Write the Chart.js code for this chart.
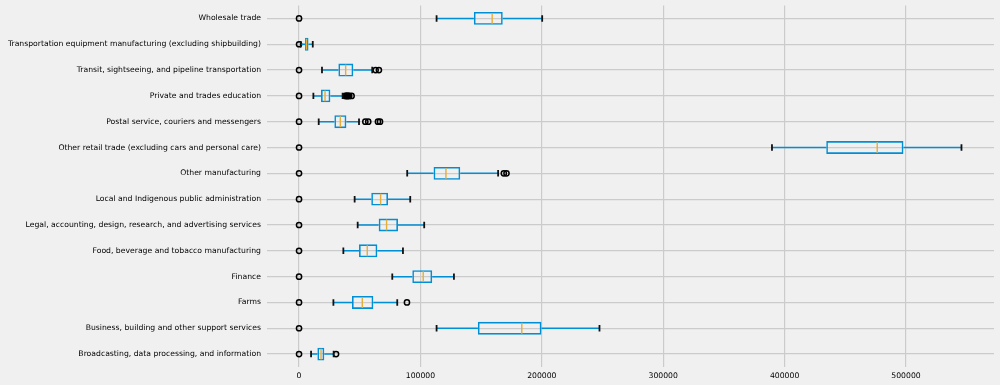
<!DOCTYPE html>
<html>
<head>
<meta charset="utf-8">
<script src="https://cdn.jsdelivr.net/npm/chart.js@4"></script>
<style>
  body { margin: 0; background: #f0f0f0; }
  #wrap { width: 1000px; height: 385px; }
</style>
</head>
<body>
<div id="wrap"><canvas id="boxChart"></canvas></div>
<script>
// categories top -> bottom
const categories = [
  'Wholesale trade',
  'Transportation equipment manufacturing (excluding shipbuilding)',
  'Transit, sightseeing, and pipeline transportation',
  'Private and trades education',
  'Postal service, couriers and messengers',
  'Other retail trade (excluding cars and personal care)',
  'Other manufacturing',
  'Local and Indigenous public administration',
  'Legal, accounting, design, research, and advertising services',
  'Food, beverage and tobacco manufacturing',
  'Finance',
  'Farms',
  'Business, building and other support services',
  'Broadcasting, data processing, and information'
];
const whiskerLow  = [113300,  1400, 18900, 11800, 16200, 389600,  89100, 45800, 48300, 36500,  76800, 28300, 113300,  9900];
const q1          = [144000,  4900, 32400, 18100, 29100, 434300, 110800, 59500, 65600, 49400,  93300, 43600, 147300, 15100];
const medians     = [159100,  6100, 38400, 21400, 34000, 476300, 121000, 67200, 72100, 56200, 102300, 52100, 183500, 18100];
const q3          = [167800,  7800, 44700, 25800, 39000, 497900, 132800, 73300, 81500, 64500, 109700, 61200, 199700, 20800];
const whiskerHigh = [200300, 11300, 60300, 35900, 49400, 545700, 164000, 91600, 103100, 85600, 127600, 80900, 247500, 28500];
const outliers = [
  [0],
  [0],
  [0, 63100, 65800],
  [0, 38100, 38900, 39700, 40500, 41300, 43300],
  [0, 54600, 57000, 65000, 66700],
  [0],
  [0, 168700, 170900],
  [0],
  [0],
  [0],
  [0],
  [0, 88900],
  [0],
  [0, 30500]
];
const xTicks = [0, 100000, 200000, 300000, 400000, 500000];

const boxData = categories.map((c, i) => [q1[i], q3[i]]);
const flierData = [];
outliers.forEach((list, i) => list.forEach(v => flierData.push({ x: v, y: categories[i] })));

const bgPlugin = {
  id: 'bg',
  beforeDraw(chart) {
    const c = chart.ctx;
    c.save();
    c.fillStyle = '#f0f0f0';
    c.fillRect(0, 0, chart.width, chart.height);
    c.restore();
  }
};

// whiskers, caps and medians
const whiskerPlugin = {
  id: 'whiskers',
  afterDatasetsDraw(chart) {
    const c = chart.ctx;
    const xs = chart.scales.x, ys = chart.scales.y;
    const band = Math.abs(ys.getPixelForValue(1) - ys.getPixelForValue(0));
    c.save();
    categories.forEach((cat, i) => {
      const cy = ys.getPixelForValue(i);
      const lo = xs.getPixelForValue(whiskerLow[i]);
      const hi = xs.getPixelForValue(whiskerHigh[i]);
      const b1 = xs.getPixelForValue(q1[i]);
      const b3 = xs.getPixelForValue(q3[i]);
      const md = xs.getPixelForValue(medians[i]);

      c.strokeStyle = '#008fd5';
      c.lineWidth = 1.5;
      c.beginPath();
      c.moveTo(lo, cy); c.lineTo(b1, cy);
      c.moveTo(b3, cy); c.lineTo(hi, cy);
      c.stroke();

      const capH = band * 0.125;
      c.strokeStyle = '#111';
      c.lineWidth = 1.8;
      c.beginPath();
      c.moveTo(lo, cy - capH); c.lineTo(lo, cy + capH);
      c.moveTo(hi, cy - capH); c.lineTo(hi, cy + capH);
      c.stroke();

      const boxH = band * 0.25 - 1;
      c.strokeStyle = '#e5ae38';
      c.lineWidth = 1.4;
      c.beginPath();
      c.moveTo(md, cy - boxH); c.lineTo(md, cy + boxH);
      c.stroke();
    });
    c.restore();
  }
};

const ctx = document.getElementById('boxChart').getContext('2d');

const boxChart = new Chart(ctx, {
  type: 'bar',
  data: {
    labels: categories,
    datasets: [{
      label: 'box',
      data: boxData,
      backgroundColor: 'rgba(0,0,0,0)',
      borderColor: '#008fd5',
      borderWidth: 1.6,
      borderSkipped: false,
      categoryPercentage: 1,
      barPercentage: 0.5
    }, {
      type: 'scatter',
      label: 'fliers',
      data: flierData,
      pointStyle: 'circle',
      pointRadius: 2.6,
      pointBorderWidth: 1.5,
      pointBorderColor: '#000',
      pointBackgroundColor: 'rgba(0,0,0,0)'
    }]
  },
  options: {
    indexAxis: 'y',
    responsive: true,
    maintainAspectRatio: false,
    animation: false,
    layout: { padding: { top: 5, right: 6, bottom: 0, left: 0 } },
    plugins: {
      legend: { display: false },
      tooltip: { enabled: false }
    },
    scales: {
      x: {
        type: 'linear',
        min: -26400,
        max: 572500,
        afterBuildTicks: s => { s.ticks = xTicks.map(v => ({ value: v })); },
        afterFit: s => { s.height = 18; },
        grid: { color: '#cbcbcb', lineWidth: 1.2, drawTicks: false },
        border: { display: false },
        ticks: {
          padding: 4,
          color: '#000',
          font: { family: 'DejaVu Sans', size: 7.7 },
          callback: v => String(v)
        }
      },
      y: {
        afterFit: s => { s.width = 267; s.paddingTop = 0; s.paddingBottom = 0; },
        grid: { color: '#cbcbcb', lineWidth: 1.2, drawTicks: false, offset: false },
        border: { display: false },
        ticks: {
          padding: 6,
          color: '#000',
          font: { family: 'DejaVu Sans', size: 7.7 }
        }
      }
    }
  },
  plugins: [bgPlugin, whiskerPlugin]
});
</script>
</body>
</html>
